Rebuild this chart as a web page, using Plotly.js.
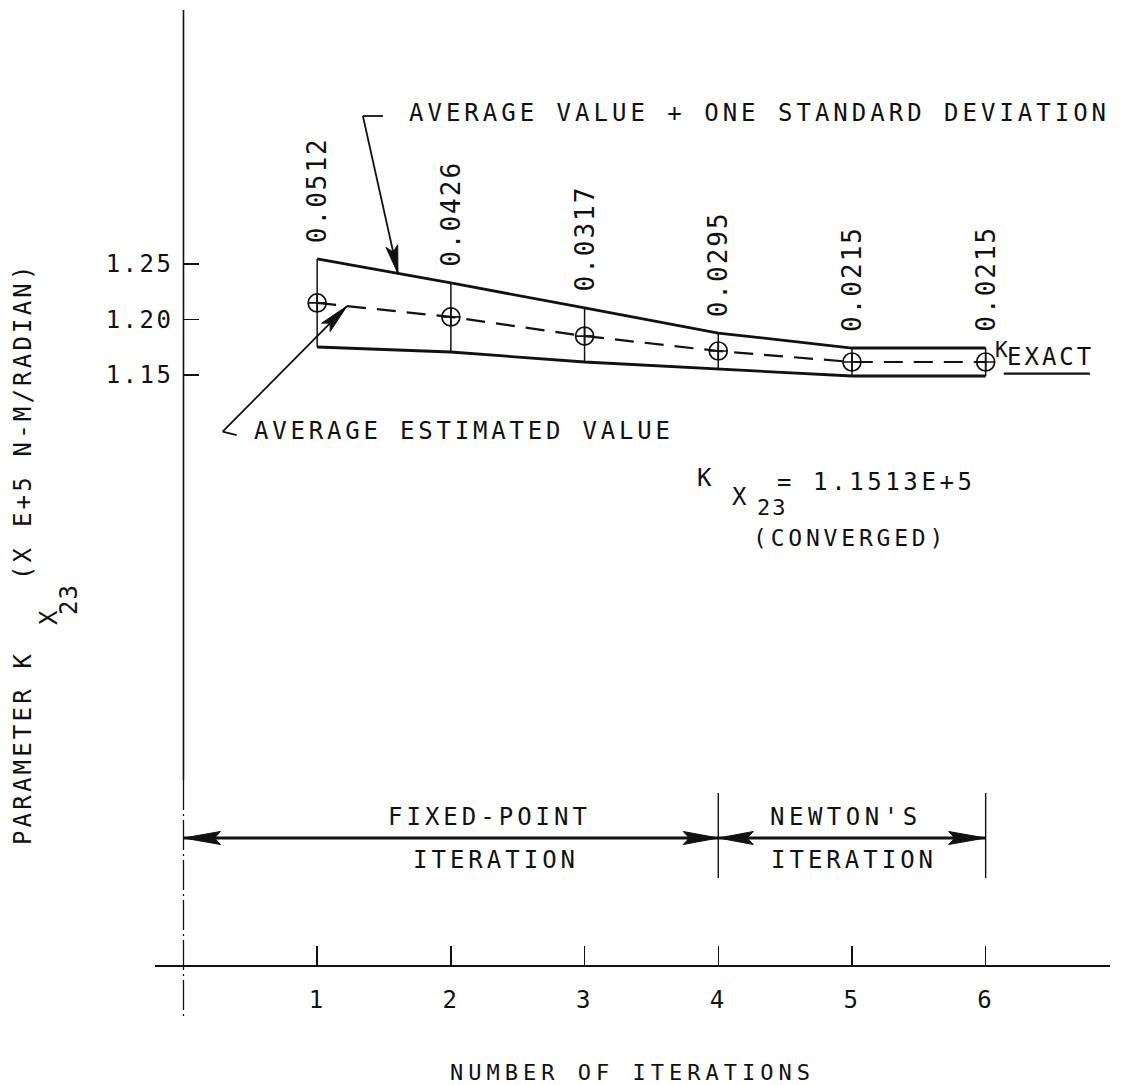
<!DOCTYPE html>
<html>
<head>
<meta charset="utf-8">
<script src="https://cdn.plot.ly/plotly-3.0.1.min.js"></script>
<style>
  html, body { margin: 0; padding: 0; background: #ffffff; }
  #chart { width: 1126px; height: 1085px; }
  .xtick text, .ytick text { letter-spacing: 2.5px; }
  .g-xtitle text { letter-spacing: 5px; }
</style>
</head>
<body>
<div id="chart"></div>
<script>
// Iteration history of the stiffness parameter K_X23 (x E+5 N-M/RADIAN)
const iterations   = [1, 2, 3, 4, 5, 6];
const avgEstimate  = [1.2149, 1.2023, 1.1851, 1.1716, 1.1617, 1.1617];
const avgPlusStd   = [1.2545, 1.2329, 1.2104, 1.1878, 1.1743, 1.1743];
const avgMinusStd  = [1.1752, 1.1707, 1.1617, 1.1554, 1.1491, 1.1491];
const stdDevLabels = ['0.0512', '0.0426', '0.0317', '0.0295', '0.0215', '0.0215'];
const kExact       = 1.1513;
const convergedText = '= 1.1513E+5';

const xTickVals = [1, 2, 3, 4, 5, 6];
const xTickText = ['1', '2', '3', '4', '5', '6'];
const yTickVals = [1.15, 1.20, 1.25];
const yTickText = ['1.15', '1.20', '1.25'];

const FONT = 'DejaVu Sans Mono, Liberation Mono, monospace';
const INK = '#111111';
const spaced = (t, px) => `<span style="letter-spacing:${px}px">${t}</span>`;

// axis geometry
const X_RANGE = [-0.213, 6.93];
const Y_RANGE = [0.6185, 1.4788];
const MARGIN = { l: 155, r: 16, t: 10, b: 120 };
const PLOT_W = 1126 - MARGIN.l - MARGIN.r;
const PLOT_H = 1085 - MARGIN.t - MARGIN.b;
const PX_X = PLOT_W / (X_RANGE[1] - X_RANGE[0]);
const PX_Y = PLOT_H / (Y_RANGE[1] - Y_RANGE[0]);
const yAxisPos = (0 - X_RANGE[0]) / (X_RANGE[1] - X_RANGE[0]);

const errPlus  = avgPlusStd.map((v, i) => v - avgEstimate[i]);
const errMinus = avgEstimate.map((v, i) => v - avgMinusStd[i]);

const traces = [
  { x: iterations, y: avgPlusStd, type: 'scatter', mode: 'lines',
    line: { color: INK, width: 2.8 }, hoverinfo: 'skip' },
  { x: iterations, y: avgMinusStd, type: 'scatter', mode: 'lines',
    line: { color: INK, width: 2.8 }, hoverinfo: 'skip' },
  { x: iterations, y: avgEstimate, type: 'scatter', mode: 'lines+markers',
    line: { color: INK, width: 2.2, dash: '19px,11px' },
    marker: { symbol: 'circle-cross-open', size: 18, color: INK, line: { color: INK, width: 1.7 } },
    error_y: { type: 'data', symmetric: false, array: errPlus, arrayminus: errMinus,
               width: 0, thickness: 1.5, color: INK },
    hoverinfo: 'skip' }
];

// narrow barbed arrowhead drawn in pixel units at a data-space tip
function arrowHead(tipX, tipY, fromX, fromY, len, half, notch) {
  const dx = (tipX - fromX) * PX_X;
  const dy = (tipY - fromY) * PX_Y;
  const d = Math.hypot(dx, dy);
  const ux = dx / d, uy = dy / d;
  const nx = -uy, ny = ux;
  const p = (a, b) => `${(a).toFixed(2)},${(b).toFixed(2)}`;
  const path = `M0,0 L${p(-len * ux + half * nx, -len * uy + half * ny)} ` +
               `L${p(-notch * ux, -notch * uy)} ` +
               `L${p(-len * ux - half * nx, -len * uy - half * ny)} Z`;
  return { type: 'path', xref: 'x', yref: 'y', xsizemode: 'pixel', ysizemode: 'pixel',
           xanchor: tipX, yanchor: tipY, path: path,
           fillcolor: INK, line: { color: INK, width: 1 } };
}
const seg = (x0, y0, x1, y1, w, dash) => ({
  type: 'line', xref: 'x', yref: 'y', x0, y0, x1, y1,
  line: { color: INK, width: w, dash: dash || 'solid' } });

// callout geometry
const topTail = [1.342, 1.3833], topTip = [1.604, 1.2415];
const lowTail = [0.293, 1.0989], lowTip = [1.223, 1.2121];
const spanY = 0.7329;

const shapes = [
  // vertical axis: solid, then broken towards the bottom
  { type: 'line', xref: 'paper', yref: 'paper', x0: yAxisPos, x1: yAxisPos, y0: 1, y1: 0.1937,
    line: { color: INK, width: 1.6 } },
  { type: 'line', xref: 'paper', yref: 'paper', x0: yAxisPos, x1: yAxisPos, y0: 0.1937, y1: -0.0565,
    line: { color: INK, width: 1.3, dash: '30px,4px,2px,4px' } },
  // upper-band callout
  seg(topTail[0], topTail[1], 1.492, topTail[1], 1.8),
  seg(topTail[0], topTail[1], topTip[0], topTip[1], 1.8),
  arrowHead(topTip[0], topTip[1], topTail[0], topTail[1], 28, 6, 22),
  // average-value callout
  seg(lowTail[0], lowTail[1], 0.398, 1.0959, 1.8),
  seg(lowTail[0], lowTail[1], lowTip[0], lowTip[1], 1.8),
  arrowHead(lowTip[0], lowTip[1], lowTail[0], lowTail[1], 30, 6, 24),
  // underline at the exact value
  seg(6.135, kExact, 6.78, kExact, 2.2),
  // iteration-method spans
  seg(4, 0.6968, 4, 0.7734, 1.4),
  seg(6, 0.6968, 6, 0.7734, 1.4),
  seg(0, spanY, 4, spanY, 3),
  seg(4, spanY, 6, spanY, 3),
  arrowHead(0, spanY, 4, spanY, 37, 6.5, 31),
  arrowHead(4, spanY, 0, spanY, 35, 6.5, 29),
  arrowHead(4, spanY, 6, spanY, 35, 6.5, 29),
  arrowHead(6, spanY, 4, spanY, 37, 6.5, 31)
];

const annotations = [];

// standard-deviation values written above each iteration
iterations.forEach((it, i) => {
  annotations.push({
    x: it, y: avgPlusStd[i], xref: 'x', yref: 'y',
    text: spaced(stdDevLabels[i], 2), textangle: -90, showarrow: false,
    xanchor: 'center', yanchor: 'bottom', yshift: 14,
    font: { family: FONT, size: 26, color: INK }
  });
});

const txt = (x, y, text, size, sp, xanchor, extra) => Object.assign({
  x, y, xref: 'x', yref: 'y', xanchor: xanchor || 'center', yanchor: 'middle',
  text: spaced(text, sp), showarrow: false, font: { family: FONT, size, color: INK }
}, extra || {});

annotations.push(
  txt(1.675, 1.386, 'AVERAGE VALUE + ONE STANDARD DEVIATION', 24, 4, 'left'),
  txt(0.510, 1.0998, 'AVERAGE ESTIMATED VALUE', 24, 3.8, 'left'),
  // exact value tag
  txt(6.121, 1.1725, 'K', 21, 0),
  txt(6.146, kExact, 'EXACT', 24, 3, 'left', { yanchor: 'bottom', yshift: 1 }),
  // converged value note
  txt(3.900, 1.0572, 'K', 24, 0),
  txt(4.162, 1.0401, 'X', 24, 0),
  txt(4.402, 1.0302, '23', 22, 2),
  txt(4.424, 1.0536, convergedText, 24, 3.6, 'left'),
  txt(4.985, 1.0036, '(CONVERGED)', 23, 3.8),
  // iteration-method labels
  txt(2.292, 0.7518, 'FIXED-POINT', 24, 4),
  txt(2.337, 0.7131, 'ITERATION', 24, 4),
  txt(4.955, 0.7518, "NEWTON'S", 24, 4.5),
  txt(5.015, 0.7131, 'ITERATION', 24, 4),
  // vertical axis title, built in pieces for the double subscript
  { x: -0.1382, y: 0.2272, xref: 'paper', yref: 'paper', xanchor: 'center', yanchor: 'middle',
    text: spaced('PARAMETER K', 3.2), textangle: -90, showarrow: false,
    font: { family: FONT, size: 24, color: INK } },
  { x: -0.1110, y: 0.3644, xref: 'paper', yref: 'paper', xanchor: 'center', yanchor: 'middle',
    text: 'X', textangle: -90, showarrow: false, font: { family: FONT, size: 24, color: INK } },
  { x: -0.0901, y: 0.3832, xref: 'paper', yref: 'paper', xanchor: 'center', yanchor: 'middle',
    text: spaced('23', 1), textangle: -90, showarrow: false, font: { family: FONT, size: 24, color: INK } },
  { x: -0.1382, y: 0.5696, xref: 'paper', yref: 'paper', xanchor: 'center', yanchor: 'middle',
    text: spaced('(X E+5 N-M/RADIAN)', 3.2), textangle: -90, showarrow: false,
    font: { family: FONT, size: 24, color: INK } }
);

const layout = {
  width: 1126, height: 1085,
  margin: MARGIN,
  paper_bgcolor: '#ffffff', plot_bgcolor: '#ffffff',
  showlegend: false,
  xaxis: {
    range: X_RANGE, showgrid: false, zeroline: false,
    showline: true, linecolor: INK, linewidth: 2.4,
    ticks: 'inside', ticklen: 19, tickwidth: 1.4, tickcolor: INK,
    tickvals: xTickVals, ticktext: xTickText,
    tickfont: { family: FONT, size: 24, color: INK }, ticklabelstandoff: 12,
    title: { text: 'NUMBER OF ITERATIONS', font: { family: FONT, size: 22, color: INK }, standoff: 68 },
    fixedrange: true
  },
  yaxis: {
    range: Y_RANGE, anchor: 'free', position: yAxisPos,
    showgrid: false, zeroline: false, showline: false,
    ticks: 'inside', ticklen: 15, tickwidth: 1.6, tickcolor: INK,
    tickvals: yTickVals, ticktext: yTickText,
    tickfont: { family: FONT, size: 24, color: INK }, ticklabelstandoff: 10,
    fixedrange: true
  },
  shapes: shapes,
  annotations: annotations
};

Plotly.newPlot('chart', traces, layout, { staticPlot: true, displayModeBar: false });
</script>
</body>
</html>
